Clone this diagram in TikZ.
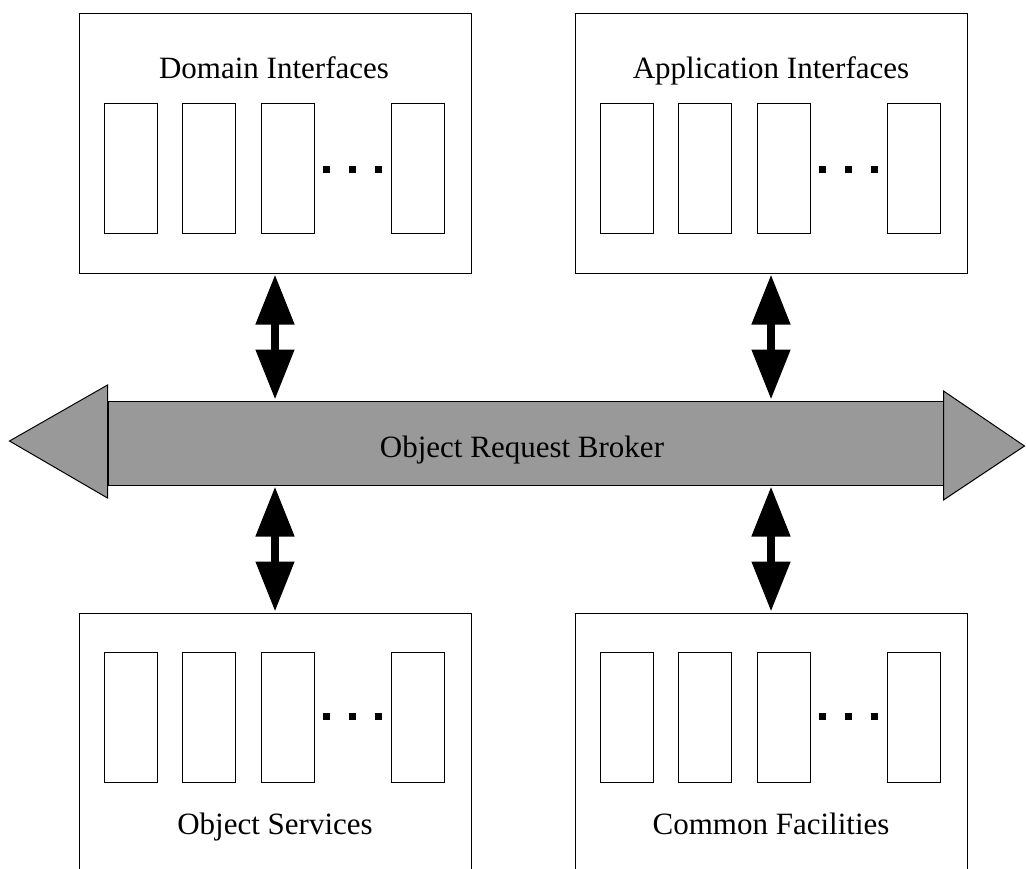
\documentclass[tikz,border=0pt]{standalone}
\usepackage{fontspec}
\setmainfont{Liberation Serif}
\usetikzlibrary{arrows.meta,calc}
\definecolor{orbfill}{RGB}{153,153,153}
\begin{document}
\begin{tikzpicture}[x=1pt,y=-1pt,
  panel/.style={draw,line width=1pt,minimum width=392pt,minimum height=260pt,inner sep=0pt},
  slot/.style={draw,line width=1pt,minimum width=53pt,minimum height=130pt,inner sep=0pt},
  dot/.style={fill=black,minimum size=7pt,inner sep=0pt},
  title/.style={font=\fontsize{31}{37}\selectfont,anchor=base,inner sep=0pt},
  link/.style={line width=8pt,shorten <=1pt,shorten >=1pt,
    {Triangle[width=37pt,length=50pt]}-{Triangle[width=37pt,length=50pt]}},
  bus/.style={draw,line width=1pt,fill=orbfill,line join=miter}]
\useasboundingbox (0,0) rectangle (1026,868);

% the four interface groups
\node[panel] (dom) at (275,143) {};
\node[panel] (app) at (771,143) {};
\node[panel] (svc) at (275,743) {};
\node[panel] (fac) at (771,743) {};

% slots and ellipsis dots inside each group
\foreach \g/\dy/\ddy in {dom/156/157, app/156/157, svc/104.5/104, fac/104.5/104}{
  \foreach \dx [count=\i] in {52.5,130.5,209,339.5}
    \node[slot] (\g-s\i) at ($(\g.north west)+(\dx,\dy)$) {};
  \foreach \dx [count=\i] in {248,274,300}
    \node[dot] (\g-d\i) at ($(\g.north west)+(\dx,\ddy)$) {};
}

% group titles
\node[title] (domtitle) at (274,78) {Domain Interfaces};
\node[title] (apptitle) at (771,78) {Application Interfaces};
\node[title] (svctitle) at (275,834) {Object Services};
\node[title] (factitle) at (771,834) {Common Facilities};

% the broker bus
\node[bus,minimum width=835pt,minimum height=84pt,inner sep=0pt] (orb) at (525.5,443) {};
\draw[bus] ($(orb.west)+(0,-58)$) -- ($(orb.west)+(-98,-2)$) -- ($(orb.west)+(0,55)$) -- cycle;
\draw[bus] ($(orb.east)+(0,-52)$) -- ($(orb.east)+(81,3)$) -- ($(orb.east)+(0,57)$) -- cycle;
\node[title] (orbtext) at (522,457) {Object Request Broker};

% connections between the groups and the bus
\draw[link] (dom.south) -- (dom.south |- orb.north);
\draw[link] (app.south) -- (app.south |- orb.north);
\draw[link] (svc.north) -- (svc.north |- orb.south);
\draw[link] (fac.north) -- (fac.north |- orb.south);
\end{tikzpicture}
\end{document}
